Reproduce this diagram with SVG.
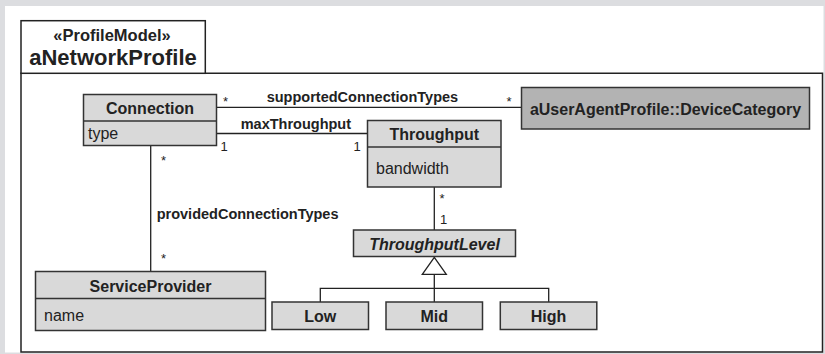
<svg xmlns="http://www.w3.org/2000/svg" width="825" height="354" viewBox="0 0 825 354">
  <style>
    .box{fill:#d9d9d9;stroke:#333;stroke-width:1.5}
    .dark{fill:#b3b3b3}
    .div{stroke:#333;stroke-width:1.5}
    .t{font-family:"Liberation Sans",Arial,sans-serif;fill:#222}
    .n{font-size:16px;font-weight:bold;text-anchor:middle}
    .a{font-size:16px}
    .lbl{font-size:14.5px;font-weight:bold}
    .m{font-size:13px}
    .edge{stroke:#222;stroke-width:1.3;fill:none}
  </style>

  <!-- page background and frame -->
  <rect x="0" y="0" width="825" height="354" fill="#dcdde0"/>
  <rect x="5" y="6" width="818.5" height="346.5" fill="#fff"/>
  <g id="frame">
    <path d="M21,73.3 V352 H822.5 V73.3 Z" fill="none" stroke="#222" stroke-width="1.5"/>
    <rect x="21" y="20.7" width="184.3" height="52.6" fill="#fff" stroke="#222" stroke-width="1.5"/>
    <text class="t" x="112" y="40.7" font-size="16.5" font-weight="bold" text-anchor="middle">«ProfileModel»</text>
    <text class="t" x="113" y="65" font-size="22" font-weight="bold" text-anchor="middle">aNetworkProfile</text>
  </g>

  <!-- associations and generalization -->
  <g id="connectors">
    <line class="edge" x1="216.7" y1="107.3" x2="521.5" y2="107.3"/>
    <line class="edge" x1="216.7" y1="133.5" x2="367.5" y2="133.5"/>
    <line class="edge" x1="150.7" y1="145.7" x2="150.7" y2="271.5"/>
    <line class="edge" x1="434.3" y1="187" x2="434.3" y2="230"/>
    <path class="edge" d="M320.3,302 V288.3 H548.7 V302 M434.3,302 V274.3"/>
    <polygon points="434.3,257.3 422.3,274.3 446.3,274.3" fill="#fff" stroke="#222" stroke-width="1.3"/>

    <text class="t lbl" x="266.7" y="101.7">supportedConnectionTypes</text>
    <text class="t lbl" x="240.7" y="128.5">maxThroughput</text>
    <text class="t lbl" x="156.7" y="218.5">providedConnectionTypes</text>

    <text class="t m" x="223" y="106">*</text>
    <text class="t m" x="506.5" y="106">*</text>
    <text class="t m" x="161" y="165">*</text>
    <text class="t m" x="161" y="263">*</text>
    <text class="t m" x="439.5" y="203">*</text>
    <text class="t m" x="440" y="223.5">1</text>
    <text class="t m" x="220.5" y="151">1</text>
    <text class="t m" x="353.5" y="151">1</text>
  </g>

  <g id="Connection">
    <rect class="box" x="83.5" y="94.5" width="133" height="51"/>
    <line class="div" x1="83.5" y1="121" x2="216.5" y2="121"/>
    <text class="t n" x="150" y="114">Connection</text>
    <text class="t a" x="88" y="139">type</text>
  </g>

  <g id="Throughput">
    <rect class="box" x="367.5" y="120.5" width="133.5" height="66.5"/>
    <line class="div" x1="367.5" y1="147" x2="501" y2="147"/>
    <text class="t n" x="434.3" y="140">Throughput</text>
    <text class="t a" x="376" y="174">bandwidth</text>
  </g>

  <g id="DeviceCategory">
    <rect class="box dark" x="521.5" y="87.5" width="288" height="41.5"/>
    <text class="t n" x="665.5" y="114.5">aUserAgentProfile::DeviceCategory</text>
  </g>

  <g id="ThroughputLevel">
    <rect class="box" x="353.5" y="230" width="162" height="26.5"/>
    <text class="t n" x="434.5" y="249.5" font-style="italic">ThroughputLevel</text>
  </g>

  <g id="ServiceProvider">
    <rect class="box" x="35.5" y="271.5" width="230" height="59"/>
    <line class="div" x1="35.5" y1="298.5" x2="265.5" y2="298.5"/>
    <text class="t n" x="150.5" y="292">ServiceProvider</text>
    <text class="t a" x="44" y="321">name</text>
  </g>

  <g id="Low">
    <rect class="box" x="272" y="302" width="96.5" height="27.5"/>
    <text class="t n" x="320.3" y="322">Low</text>
  </g>

  <g id="Mid">
    <rect class="box" x="386" y="302" width="96.5" height="27.5"/>
    <text class="t n" x="434.3" y="322">Mid</text>
  </g>

  <g id="High">
    <rect class="box" x="500.3" y="302" width="96.5" height="27.5"/>
    <text class="t n" x="548.6" y="322">High</text>
  </g>
</svg>
